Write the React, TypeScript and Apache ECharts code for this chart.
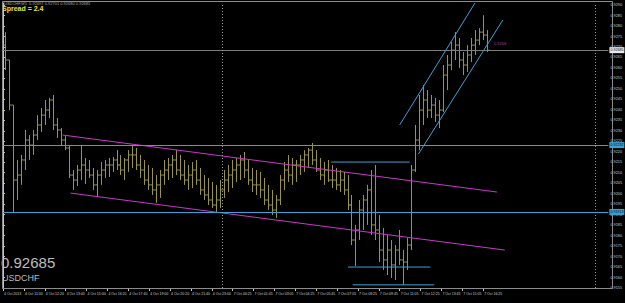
import React, { useEffect, useRef } from "react";
import * as echarts from "echarts";

// OHLC values of the USDCHF M5 bars
const opens = [
  0.92709, 0.92638, 0.92423, 0.92065, 0.92089, 0.92161, 0.92256, 0.92232, 0.92280, 0.92328,
  0.92375, 0.92399, 0.92447, 0.92328, 0.92304, 0.92256, 0.92218, 0.92089, 0.92065, 0.92113,
  0.92137, 0.92113, 0.92089, 0.92042, 0.92089, 0.92113, 0.92137, 0.92137, 0.92161, 0.92137,
  0.92113, 0.92161, 0.92185, 0.92185, 0.92137, 0.92113, 0.92065, 0.92042, 0.92018, 0.92042,
  0.92089, 0.92113, 0.92137, 0.92161, 0.92113, 0.92089, 0.92065, 0.92089, 0.92113, 0.92065,
  0.92018, 0.91994, 0.91970, 0.91946, 0.91970, 0.92018, 0.92065, 0.92089, 0.92113, 0.92137,
  0.92161, 0.92113, 0.92065, 0.92042, 0.92042, 0.92018, 0.91970, 0.91946, 0.91922, 0.91970,
  0.92065, 0.92113, 0.92089, 0.92137, 0.92137, 0.92161, 0.92185, 0.92208, 0.92161, 0.92113,
  0.92089, 0.92113, 0.92065, 0.92065, 0.92042, 0.92065, 0.92018, 0.91946, 0.91779, 0.91827,
  0.91922, 0.91970, 0.92018, 0.91851, 0.91827, 0.91731, 0.91684, 0.91731, 0.91660, 0.91731,
  0.91684, 0.91674, 0.91755, 0.92113, 0.92256, 0.92399, 0.92447, 0.92399, 0.92423, 0.92375,
  0.92399, 0.92566, 0.92614, 0.92685, 0.92709, 0.92638, 0.92614, 0.92662, 0.92709, 0.92733,
  0.92771, 0.92757,
];
const highs = [
  0.92771, 0.92638, 0.92423, 0.92161, 0.92185, 0.92304, 0.92280, 0.92304, 0.92375, 0.92409,
  0.92447, 0.92457, 0.92471, 0.92361, 0.92313, 0.92275, 0.92232, 0.92113, 0.92137, 0.92232,
  0.92170, 0.92161, 0.92123, 0.92113, 0.92151, 0.92161, 0.92170, 0.92175, 0.92208, 0.92185,
  0.92170, 0.92208, 0.92232, 0.92218, 0.92185, 0.92161, 0.92137, 0.92123, 0.92089, 0.92113,
  0.92161, 0.92170, 0.92185, 0.92208, 0.92185, 0.92161, 0.92137, 0.92151, 0.92161, 0.92123,
  0.92089, 0.92075, 0.92056, 0.92042, 0.92065, 0.92113, 0.92137, 0.92161, 0.92170, 0.92185,
  0.92199, 0.92161, 0.92123, 0.92113, 0.92104, 0.92075, 0.92042, 0.92018, 0.91994, 0.92089,
  0.92151, 0.92185, 0.92170, 0.92161, 0.92185, 0.92208, 0.92218, 0.92242, 0.92208, 0.92170,
  0.92151, 0.92161, 0.92137, 0.92123, 0.92113, 0.92104, 0.92089, 0.91994, 0.91851, 0.91970,
  0.91994, 0.92042, 0.92113, 0.92137, 0.91898, 0.91836, 0.91803, 0.91779, 0.91755, 0.91827,
  0.91731, 0.91789, 0.92137, 0.92328, 0.92471, 0.92519, 0.92495, 0.92471, 0.92457, 0.92447,
  0.92614, 0.92662, 0.92724, 0.92771, 0.92743, 0.92676, 0.92709, 0.92743, 0.92781, 0.92790,
  0.92852, 0.92781,
];
const lows = [
  0.92590, 0.92399, 0.91913, 0.91970, 0.92042, 0.92113, 0.92161, 0.92185, 0.92256, 0.92294,
  0.92328, 0.92361, 0.92304, 0.92266, 0.92232, 0.92208, 0.92075, 0.92018, 0.92037, 0.92065,
  0.92046, 0.92075, 0.92018, 0.91984, 0.92042, 0.92075, 0.92080, 0.92104, 0.92113, 0.92089,
  0.92065, 0.92104, 0.92123, 0.92113, 0.92075, 0.92042, 0.92018, 0.91994, 0.91956, 0.91980,
  0.92042, 0.92065, 0.92075, 0.92089, 0.92065, 0.92042, 0.92018, 0.92027, 0.92042, 0.91994,
  0.91970, 0.91946, 0.91932, 0.91913, 0.91932, 0.91980, 0.92008, 0.92027, 0.92056, 0.92065,
  0.92075, 0.92042, 0.92008, 0.91994, 0.91980, 0.91946, 0.91922, 0.91898, 0.91884, 0.91946,
  0.92018, 0.92056, 0.92042, 0.92056, 0.92089, 0.92104, 0.92123, 0.92137, 0.92104, 0.92065,
  0.92042, 0.92056, 0.92027, 0.92018, 0.92008, 0.91994, 0.91922, 0.91755, 0.91655, 0.91779,
  0.91827, 0.91851, 0.91803, 0.91779, 0.91674, 0.91636, 0.91612, 0.91598, 0.91588, 0.91660,
  0.91565, 0.91636, 0.91731, 0.92104, 0.92208, 0.92328, 0.92361, 0.92361, 0.92342, 0.92313,
  0.92390, 0.92495, 0.92590, 0.92638, 0.92600, 0.92566, 0.92581, 0.92628, 0.92662, 0.92709,
  0.92733, 0.92676,
];
const closes = [
  0.92638, 0.92423, 0.92065, 0.92089, 0.92161, 0.92256, 0.92232, 0.92280, 0.92328, 0.92375,
  0.92399, 0.92447, 0.92328, 0.92304, 0.92256, 0.92218, 0.92089, 0.92065, 0.92113, 0.92137,
  0.92113, 0.92089, 0.92042, 0.92089, 0.92113, 0.92137, 0.92137, 0.92161, 0.92137, 0.92113,
  0.92161, 0.92185, 0.92185, 0.92137, 0.92113, 0.92065, 0.92042, 0.92018, 0.92042, 0.92089,
  0.92113, 0.92137, 0.92161, 0.92113, 0.92089, 0.92065, 0.92089, 0.92113, 0.92065, 0.92018,
  0.91994, 0.91970, 0.91946, 0.91970, 0.92018, 0.92065, 0.92089, 0.92113, 0.92137, 0.92161,
  0.92113, 0.92065, 0.92042, 0.92042, 0.92018, 0.91970, 0.91946, 0.91922, 0.91970, 0.92065,
  0.92113, 0.92089, 0.92137, 0.92137, 0.92161, 0.92185, 0.92208, 0.92161, 0.92113, 0.92089,
  0.92113, 0.92065, 0.92065, 0.92042, 0.92065, 0.92018, 0.91946, 0.91779, 0.91827, 0.91922,
  0.91970, 0.92018, 0.91851, 0.91827, 0.91731, 0.91684, 0.91731, 0.91660, 0.91731, 0.91684,
  0.91674, 0.91755, 0.92113, 0.92256, 0.92399, 0.92447, 0.92399, 0.92423, 0.92375, 0.92399,
  0.92566, 0.92614, 0.92685, 0.92709, 0.92638, 0.92614, 0.92662, 0.92709, 0.92733, 0.92771,
  0.92757, 0.92685,
];

// time-axis tick labels
const timeLabels = [
  "4 Oct 2013", "4 Oct 11:00", "4 Oct 12:20", "4 Oct 13:40", "4 Oct 15:00", "4 Oct 16:20",
  "4 Oct 17:40", "4 Oct 19:00", "4 Oct 20:20", "4 Oct 21:40", "4 Oct 23:00", "7 Oct 00:25",
  "7 Oct 01:45", "7 Oct 03:05", "7 Oct 04:25", "7 Oct 05:45", "7 Oct 07:05", "7 Oct 08:25",
  "7 Oct 09:45", "7 Oct 11:05", "7 Oct 12:25", "7 Oct 13:45", "7 Oct 15:05", "7 Oct 16:25",
  "", "", "", "", "", "",
];

// price scale
const priceMin = 0.9155;
const priceMax = 0.9291;
const priceStep = 0.0005;
const totalSlots = 152; // bars + chart shift

const bidPrice = 0.92685;
const spreadText = "Spread = 2.4";
const symbolName = "USDCHF";
const headerText = "USDCHF,M5  0.92697 0.92701 0.92680 0.92685";
const levelPrices = [0.92232, 0.91913];
const separatorPositions = [55.15, 148.7];

// drawn objects: [barPosition, price]
const magentaUpper = [[14.97, 0.9228], [124.0, 0.92008]];
const magentaLower = [[16.97, 0.92003], [126.0, 0.91731]];
const cyanUpper = [[99.6, 0.92328], [118.5, 0.9291]];
const cyanLower = [[104.3, 0.92189], [125.5, 0.92829]];
const rangeTop = [[82.4, 0.92151], [102.1, 0.92151]];
const rangeLow1 = [[86.6, 0.9165], [107.3, 0.9165]];
const rangeLow2 = [[87.8, 0.91565], [108.3, 0.91565]];

const BAR_COLOR = "#97934a";
const CYAN = "#3aa2d6";
const MAGENTA = "#cc36cc";
const AXIS = "#c4c4c4";

export default function App() {
  const ref = useRef<HTMLDivElement>(null);
  useEffect(() => {
    if (!ref.current) return;
    const chart = echarts.init(ref.current, undefined, { renderer: "svg" });
    const barData = opens.map((o, i) => [i, o, highs[i], lows[i], closes[i]]);
    const lineSeries = (data: number[][], color: string) => ({
      type: "line",
      xAxisIndex: 0,
      yAxisIndex: 0,
      data,
      symbol: "none",
      silent: true,
      lineStyle: { color, width: 1 },
      z: 3,
    });
    const levelLabel = (bg: string, fg: string, val: number, digits: number) => ({
      show: true,
      position: "end",
      distance: 1,
      formatter: val.toFixed(digits),
      fontSize: 3.6,
      color: fg,
      backgroundColor: bg,
      padding: [1, 1, 1, 1],
      fontFamily: "Liberation Sans",
    });
    const option: any = {
      animation: false,
      backgroundColor: "#000000",
      grid: { left: 3, top: 3, right: 13, bottom: 15 },
      xAxis: [
        { type: "value", min: 0, max: totalSlots, show: false },
        {
          type: "category",
          data: timeLabels,
          boundaryGap: false,
          position: "bottom",
          axisLine: { lineStyle: { color: AXIS, width: 1 } },
          axisTick: {
            show: true,
            length: 3,
            lineStyle: { color: AXIS },
            interval: (_i: number, v: string) => v !== "",
          },
          axisLabel: {
            interval: 0,
            fontSize: 3.5,
            color: "#cfcfcf",
            align: "left",
            margin: 4,
            padding: [0, 0, 0, 1],
            fontFamily: "Liberation Sans",
          },
          splitLine: { show: false },
        },
      ],
      yAxis: {
        type: "value",
        position: "right",
        min: priceMin,
        max: priceMax,
        interval: priceStep,
        axisLine: { show: true, lineStyle: { color: AXIS } },
        axisTick: { show: true, length: 2, lineStyle: { color: AXIS } },
        axisLabel: {
          fontSize: 3.8,
          color: "#cfcfcf",
          margin: 2,
          showMaxLabel: false,
          formatter: (v: number) => v.toFixed(4),
          fontFamily: "Liberation Sans",
        },
        splitLine: { show: false },
      },
      series: [
        {
          type: "custom",
          xAxisIndex: 0,
          yAxisIndex: 0,
          data: barData,
          encode: { x: 0, y: [1, 2, 3, 4] },
          clip: true,
          z: 2,
          renderItem: (_p: any, api: any) => {
            const x = api.value(0) + 0.5;
            const o = api.coord([x, api.value(1)]);
            const h = api.coord([x, api.value(2)]);
            const l = api.coord([x, api.value(3)]);
            const c = api.coord([x, api.value(4)]);
            const px = Math.round(h[0]) + 0.5;
            const st = { stroke: BAR_COLOR, lineWidth: 1 };
            return {
              type: "group",
              children: [
                { type: "line", shape: { x1: px, y1: h[1], x2: px, y2: l[1] }, style: st },
                { type: "line", shape: { x1: px - 2, y1: o[1], x2: px, y2: o[1] }, style: st },
                { type: "line", shape: { x1: px, y1: c[1], x2: px + 2, y2: c[1] }, style: st },
              ],
            };
          },
        },
        {
          type: "line",
          xAxisIndex: 0,
          yAxisIndex: 0,
          data: [],
          symbol: "none",
          silent: true,
          z: 1,
          markLine: {
            silent: true,
            symbol: "none",
            animation: false,
            precision: 5,
            data: [
              {
                yAxis: bidPrice,
                lineStyle: { color: "#7c7c7c", type: "solid", width: 1 },
                label: levelLabel("#e8e8e8", "#000000", bidPrice, 5),
              },
              ...levelPrices.map((p) => ({
                yAxis: p,
                lineStyle: { color: CYAN, type: "solid", width: 1 },
                label: levelLabel(CYAN, "#000000", p, 5),
              })),
              ...separatorPositions.map((p) => ({
                xAxis: p,
                lineStyle: { color: "#9a9a9a", type: [1, 2], width: 1 },
                label: { show: false },
              })),
            ],
          },
        },
        lineSeries(magentaUpper, MAGENTA),
        lineSeries(magentaLower, MAGENTA),
        lineSeries(cyanUpper, CYAN),
        lineSeries(cyanLower, CYAN),
        lineSeries(rangeTop, CYAN),
        lineSeries(rangeLow1, CYAN),
        lineSeries(rangeLow2, CYAN),
      ],
      graphic: [
        {
          type: "rect",
          shape: { x: 2.5, y: 1.5, width: 610, height: 287 },
          style: { fill: "none", stroke: "#8c8c8c", lineWidth: 1 },
          silent: true,
          z: 1,
        },
        {
          type: "text",
          x: 4,
          y: 1,
          style: { text: headerText, fontSize: 4, fill: "#a8a8a8", fontFamily: "Liberation Sans" },
        },
        {
          type: "text",
          x: 2,
          y: 5,
          style: {
            text: spreadText,
            fontSize: 7,
            fontWeight: "bold",
            fill: "#e6e632",
            fontFamily: "Liberation Sans",
          },
        },
        {
          type: "text",
          x: 1,
          y: 255,
          style: { text: bidPrice.toFixed(5), fontSize: 15, fill: "#bdbdbd", fontFamily: "Liberation Sans" },
        },
        {
          type: "text",
          x: 2,
          y: 273,
          style: { text: symbolName, fontSize: 9, fill: "#bdbdbd", fontFamily: "Liberation Sans" },
        },
        {
          type: "text",
          x: 494,
          y: 41,
          style: { text: bidPrice.toFixed(4), fontSize: 4, fill: "#a040a0", fontFamily: "Liberation Sans" },
        },
      ],
    };
    chart.setOption(option);
    return () => chart.dispose();
  }, []);
  return (
    <div
      ref={ref}
      style={{ position: "fixed", left: 0, top: 0, width: 625, height: 303, background: "#000" }}
    />
  );
}
